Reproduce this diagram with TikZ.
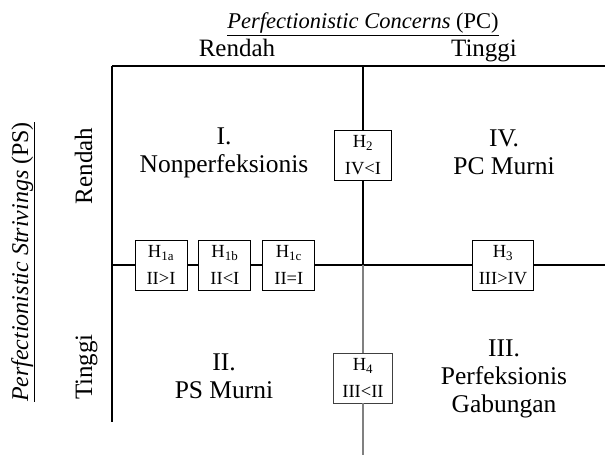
\documentclass[tikz,border=0pt]{standalone}
\usepackage{fontspec}
\setmainfont{Liberation Serif}
\usetikzlibrary{positioning}

\begin{document}
\begin{tikzpicture}[
  x=1pt, y=-1pt,
  axis/.style={line width=1.6pt},
  greyaxis/.style={line width=1.2pt, gray},
  hbox/.style={rectangle, draw, line width=0.9pt, fill=white, minimum width=52pt, minimum height=50pt, inner xsep=6pt, align=center, font=\fontsize{18.5}{27}\selectfont},
  lbl/.style={font=\fontsize{25}{28}\selectfont, anchor=base},
  quad/.style={font=\fontsize{25.5}{28}\selectfont, align=center, anchor=base}
]
\useasboundingbox (0,0) rectangle (605,457);

% corners and ends of the axes
\coordinate (tl) at (112,66);
\coordinate (tr) at (605,66);
\coordinate (bl) at (112,422);
\coordinate (ml) at (112,265);
\coordinate (mr) at (605,265);
\coordinate (vt) at (363,66);
\coordinate (ctr) at (363,265);
\coordinate (vb) at (363,455);

% headings
\node (pc) [lbl, font=\fontsize{22.5}{28}\selectfont] at (363,29) {\underline{\textit{Perfectionistic Concerns} (PC)}};
\node (pcl) [lbl] at (237,57) {Rendah};
\node (pch) [lbl] at (484,57) {Tinggi};
\node (ps) [lbl, font=\fontsize{24}{28}\selectfont, rotate=90] at (28,262) {\underline{\textit{Perfectionistic Strivings} (PS)}};
\node (psl) [lbl, rotate=90] at (92,166) {Rendah};
\node (psh) [lbl, rotate=90] at (92,367) {Tinggi};

% quadrants (base = last line)
\node (q1) [quad] at (224,173) {I.\\Nonperfeksionis};
\node (q4) [quad] at (504,175) {IV.\\PC Murni};
\node (q2) [quad] at (224,398) {II.\\PS Murni};
\node (q3) [quad] at (504,412) {III.\\Perfeksionis\\Gabungan};

% hypotheses
\node (h1a) [hbox] at (161,265) {H\textsubscript{1a}\\II>I};
\node (h1b) [hbox, right=11pt of h1a] {H\textsubscript{1b}\\II<I};
\node (h1c) [hbox, right=11pt of h1b] {H\textsubscript{1c}\\II=I};
\node (h2) [hbox, minimum width=57pt] at (363,155) {H\textsubscript{2}\\IV<I};
\node (h3) [hbox] at (503,265) {H\textsubscript{3}\\III>IV};
\node (h4) [hbox, minimum width=59pt, draw=black!75] at (363,378) {H\textsubscript{4}\\III<II};

\draw [axis] (tl) -- (tr);
\draw [axis] (tl) -- (bl);
\draw [axis] (ml) -- (h1a) -- (h1b) -- (h1c) -- (h3) -- (mr);
\draw [axis] (vt) -- (h2) -- (ctr);
\draw [greyaxis] (ctr) -- (h4) -- (vb);

\end{tikzpicture}
\end{document}
